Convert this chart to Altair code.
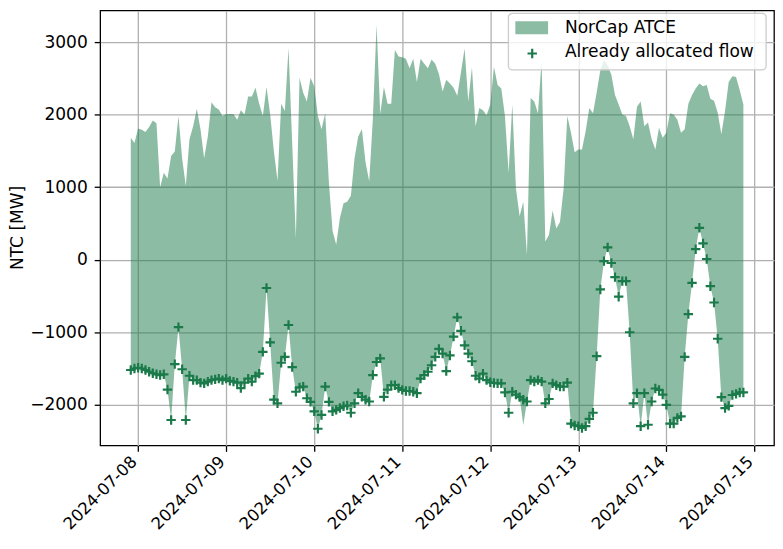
import altair as alt
import pandas as pd

# ---- data (hourly, 2024-07-07 22:00 UTC onwards) ----
start_time = "2024-07-07 22:00"
n_hours = 168

norcap_atce = [
    1680, 1610, 1810, 1790, 1760, 1830, 1920, 1880, 1000, 1200,
    1120, 1430, 1490, 1980, 1390, 1020, 1660, 1840, 2080, 1800,
    1400, 1700, 2170, 2100, 2070, 1980, 2010, 2010, 2010, 1930,
    2060, 2000, 2250, 2250, 2370, 2150, 1980, 2380, 2000, 1500,
    1090, 2150, 2050, 2920, 1610, 300, 2510, 2300, 2180, 2510,
    2390, 1980, 1800, 2020, 1070, 400, 210, 570, 780, 800,
    880, 1400, 1700, 1800, 1340, 1080, 1950, 3239, 2010, 2380,
    2150, 2150, 2890, 2800, 2790, 2770, 2640, 2770, 2450, 2770,
    2700, 2640, 2760, 2700, 2560, 2320, 2480, 2430, 2370, 2260,
    2580, 2910, 2180, 2650, 1840, 2090, 2060, 1990, 2140, 2660,
    2410, 2360, 1980, 1200, 2140, 980, 600, 800, 70, 2230,
    2180, 2020, 2750, 250, 340, 680, 430, 520, 980, 1980,
    1750, 1480, 1520, 1520, 1770, 2090, 2020, 2300, 2610, 2750,
    2680, 2550, 2270, 2140, 2000, 1980, 1840, 1660, 2110, 2180,
    1840, 1890, 1660, 1520, 1820, 1680, 1750, 2020, 2000, 1930,
    1750, 1800, 2150, 2270, 2360, 2430, 2390, 2410, 2220, 2190,
    2030, 1730, 2050, 2450, 2530, 2520, 2340, 2140,
]

allocated_flow = [
    -1520, -1500, -1490, -1500, -1520, -1545, -1565, -1580, -1590, -1580,
    -1790, -2210, -1440, -930, -1510, -2210, -1600, -1660, -1660, -1695,
    -1705, -1680, -1660, -1650, -1640, -1660, -1640, -1670, -1680, -1695,
    -1770, -1695, -1640, -1680, -1605, -1570, -1270, -390, -1140, -1930,
    -1980, -1420, -1340, -900, -1480, -1820, -1760, -1750, -1910, -1960,
    -2090, -2330, -2140, -1750, -1960, -2090, -2070, -2045, -2020, -2010,
    -2110, -1980, -1840, -1890, -1930, -1955, -1590, -1410, -1360, -1890,
    -1790, -1730, -1730, -1770, -1795, -1810, -1810, -1820, -1840, -1640,
    -1590, -1545, -1455, -1340, -1230, -1295, -1535, -1320, -1060, -795,
    -980, -1180, -1295, -1400, -1600, -1640, -1570, -1660, -1690, -1700,
    -1705, -1705, -1830, -2110, -1820, -1860, -1895, -1930, -1955, -1660,
    -1680, -1660, -1680, -1980, -1920, -1705, -1730, -1750, -1750, -1695,
    -2260, -2285, -2295, -2320, -2295, -2195, -2110, -1330, -410, -20,
    170, -45, -240, -510, -295, -295, -1000, -1980, -1840, -2295,
    -1840, -2275, -1955, -1775, -1795, -1860, -2000, -2260, -2260, -2180,
    -2160, -1340, -750, -320, 145, 440, 225, 10, -365, -590,
    -1090, -1895, -2045, -2015, -1865, -1850, -1830, -1830,
]

# lower edge of the shaded band (equals the allocated flow except one hour)
area_lower = list(allocated_flow)
area_lower[107] = -2280

day_ticks = ["2024-07-08", "2024-07-09", "2024-07-10", "2024-07-11",
             "2024-07-12", "2024-07-13", "2024-07-14", "2024-07-15"]
y_ticks = [-2000, -1000, 0, 1000, 2000, 3000]

legend_labels = ["NorCap ATCE", "Already allocated flow"]

# ---- build table ----
t0 = pd.Timestamp(start_time, tz="UTC")
times = [(t0 + pd.Timedelta(hours=i)).strftime("%Y-%m-%dT%H:%M:%SZ") for i in range(n_hours)]
df = pd.DataFrame({"t": times, "upper": norcap_atce, "low": area_lower, "flow": allocated_flow})


def ms(s):
    return int(pd.Timestamp(s, tz="UTC").timestamp() * 1000)


x_domain = [ms("2024-07-07 13:39"), ms("2024-07-15 05:21")]
x_tick_vals = [ms(d) for d in day_ticks]

GREEN = "#1b7a4a"
FONT = "DejaVu Sans"
FS = 17.2
FSX = 16.6
PLUS = "M-1,0L1,0M0,-1L0,1"

x_enc = alt.X(
    "t:T",
    scale=alt.Scale(type="utc", domain=x_domain, nice=False),
    axis=alt.Axis(
        values=x_tick_vals,
        labelExpr="utcFormat(datum.value, '%Y-%m-%d')",
        labelAngle=-45,
        labelAlign="right",
        labelBaseline="top",
        labelOffset=-10,
        labelPadding=2,
        labelFontSize=FSX,
        title=None,
        grid=True,
        tickSize=6,
    ),
)
y_scale = alt.Scale(domain=[-2560, 3437], nice=False, zero=False)
y_axis = alt.Axis(
    values=y_ticks,
    labelExpr="replace(format(datum.value, 'd'), '-', '\u2212')",
    title="NTC [MW]",
    titleX=-83,
    titleY=219,
    titleAngle=-90,
    titleAlign="center",
    titleBaseline="middle",
    tickSize=6,
    labelPadding=7,
    grid=True,
)

area = alt.Chart(df).mark_area(color=GREEN, opacity=0.5, interpolate="linear").encode(
    x=x_enc,
    y=alt.Y("upper:Q", scale=y_scale, axis=y_axis),
    y2="low:Q",
)

points = alt.Chart(df).mark_point(
    shape=PLUS, size=90, strokeWidth=2.2, color=GREEN, filled=False, opacity=1
).encode(x="t:T", y="flow:Q")

# ---- legend (drawn as decoration) ----
one = pd.DataFrame({"k": [0]})
leg_box = alt.Chart(one).mark_rect(
    fill="white", fillOpacity=0.8, stroke="#cccccc", strokeWidth=1.3, cornerRadius=4
).encode(x=alt.value(412), x2=alt.value(672), y=alt.value(3), y2=alt.value(60))
leg_patch = alt.Chart(one).mark_rect(fill=GREEN, opacity=0.5).encode(
    x=alt.value(419), x2=alt.value(452), y=alt.value(11), y2=alt.value(24)
)
leg_plus = alt.Chart(one).mark_point(
    shape=PLUS, size=90, strokeWidth=2.2, color=GREEN, filled=False, opacity=1
).encode(x=alt.value(436), y=alt.value(43.5))
leg_t1 = alt.Chart(one).mark_text(
    text=legend_labels[0], align="left", baseline="alphabetic", font=FONT, fontSize=FS, color="black"
).encode(x=alt.value(469), y=alt.value(22.5))
leg_t2 = alt.Chart(one).mark_text(
    text=legend_labels[1], align="left", baseline="alphabetic", font=FONT, fontSize=FS, color="black"
).encode(x=alt.value(469), y=alt.value(47.5))

chart = alt.layer(area, points, leg_box, leg_patch, leg_plus, leg_t1, leg_t2).properties(
    width=680,
    height=439,
    autosize=alt.AutoSizeParams(type="none"),
    padding={"left": 93, "top": 0, "right": 1, "bottom": 88},
).configure(font=FONT).configure_view(
    stroke="black", strokeWidth=1.3
).configure_axis(
    domain=False,
    gridColor="#b0b0b0",
    gridWidth=1.3,
    tickColor="black",
    tickWidth=1.3,
    labelFont=FONT,
    labelFontSize=FS,
    labelColor="black",
    titleFont=FONT,
    titleFontSize=FS,
    titleFontWeight="normal",
    titleColor="black",
)

chart.save("out.html", embed_options={"renderer": "svg", "actions": False})
